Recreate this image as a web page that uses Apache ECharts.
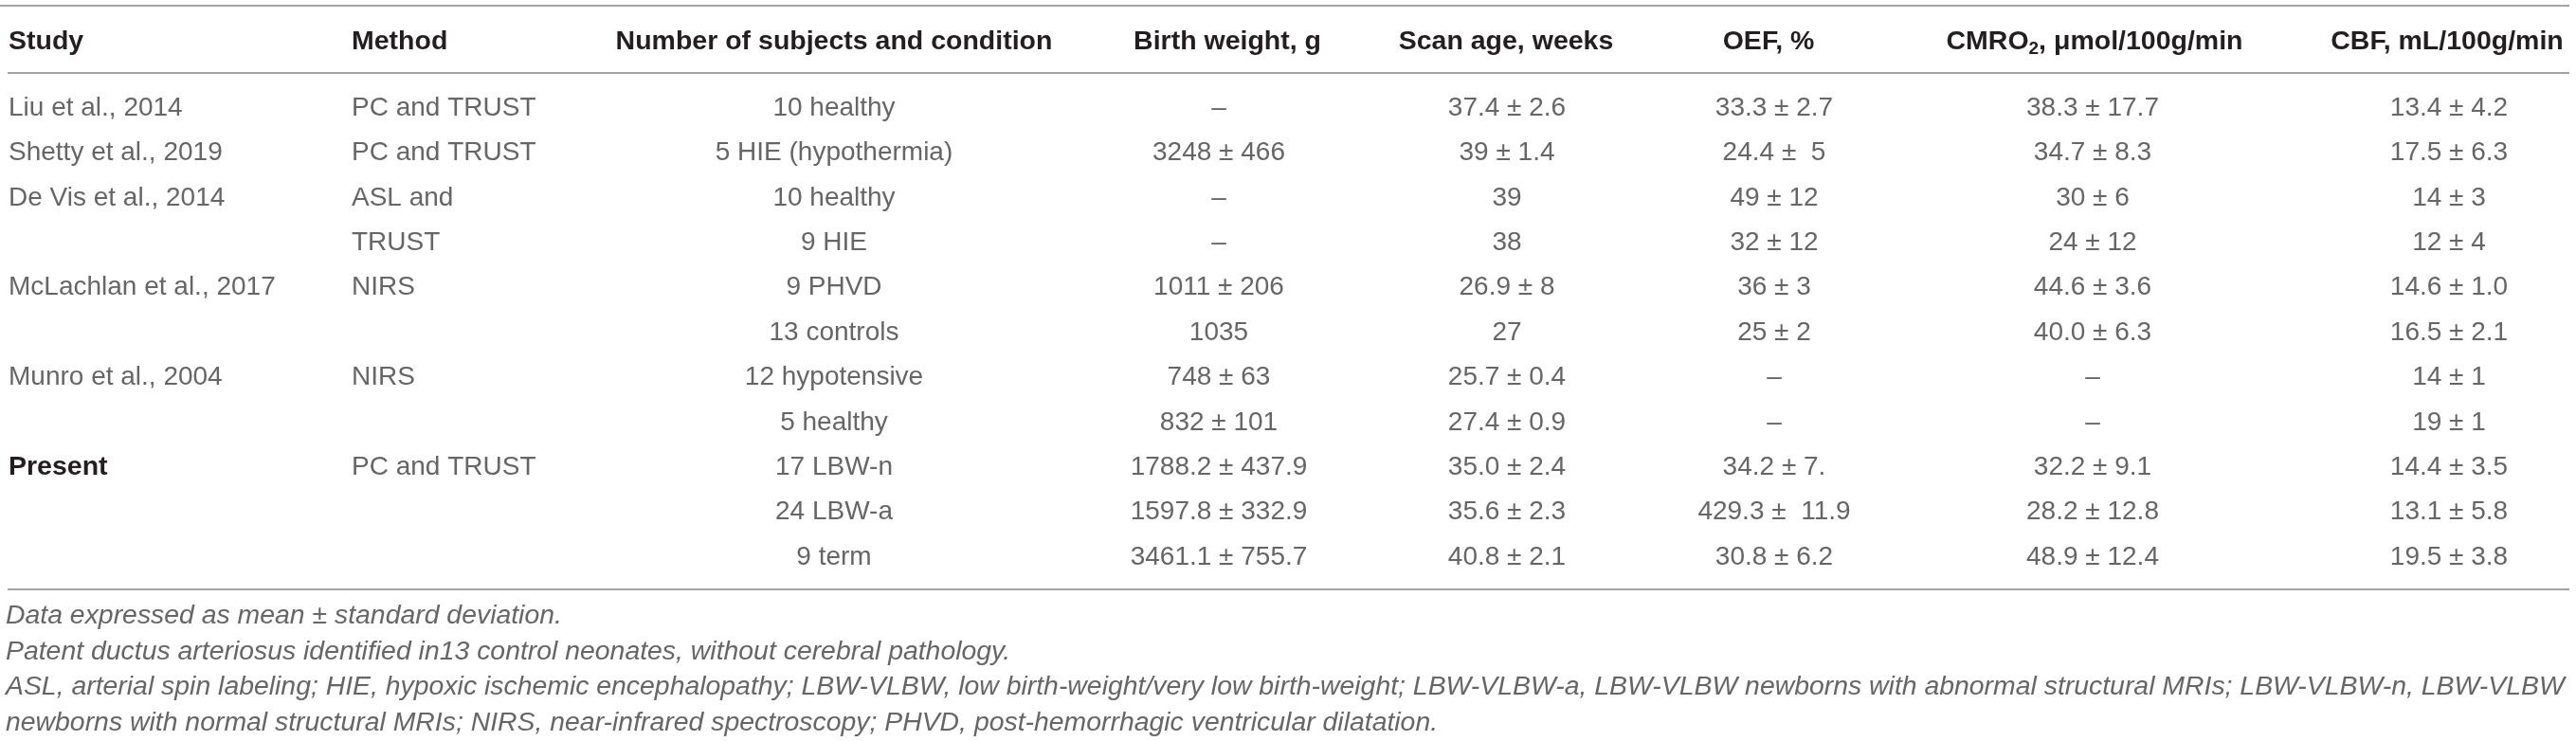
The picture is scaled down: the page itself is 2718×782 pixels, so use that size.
<!DOCTYPE html>
<html>
<head>
<meta charset="utf-8">
<script src="https://cdn.jsdelivr.net/npm/echarts@6/dist/echarts.min.js"></script>
<style>
  html, body { margin: 0; padding: 0; background: #fff; }
  #main { width: 2718px; height: 782px; }
</style>
</head>
<body>
<div id="main"></div>
<script>
// table content
var headers = ['Study', 'Method', 'Number of subjects and condition', 'Birth weight, g',
  'Scan age, weeks', 'OEF, %', 'CMRO2', 'CBF, mL/100g/min'];
var studies = ['Liu et al., 2014', 'Shetty et al., 2019', 'De Vis et al., 2014', '',
  'McLachlan et al., 2017', '', 'Munro et al., 2004', '', 'Present', '', ''];
var methods = ['PC and TRUST', 'PC and TRUST', 'ASL and', 'TRUST', 'NIRS', '', 'NIRS', '',
  'PC and TRUST', '', ''];
var subjects = ['10 healthy', '5 HIE (hypothermia)', '10 healthy', '9 HIE', '9 PHVD',
  '13 controls', '12 hypotensive', '5 healthy', '17 LBW-n', '24 LBW-a', '9 term'];
var birthWeight = ['–', '3248 ± 466', '–', '–', '1011 ± 206', '1035', '748 ± 63',
  '832 ± 101', '1788.2 ± 437.9', '1597.8 ± 332.9', '3461.1 ± 755.7'];
var scanAge = ['37.4 ± 2.6', '39 ± 1.4', '39', '38', '26.9 ± 8', '27', '25.7 ± 0.4',
  '27.4 ± 0.9', '35.0 ± 2.4', '35.6 ± 2.3', '40.8 ± 2.1'];
var oef = ['33.3 ± 2.7', '24.4 ±  5', '49 ± 12', '32 ± 12', '36 ± 3', '25 ± 2', '–', '–',
  '34.2 ± 7.', '429.3 ±  11.9', '30.8 ± 6.2'];
var cmro2 = ['38.3 ± 17.7', '34.7 ± 8.3', '30 ± 6', '24 ± 12', '44.6 ± 3.6', '40.0 ± 6.3',
  '–', '–', '32.2 ± 9.1', '28.2 ± 12.8', '48.9 ± 12.4'];
var cbf = ['13.4 ± 4.2', '17.5 ± 6.3', '14 ± 3', '12 ± 4', '14.6 ± 1.0', '16.5 ± 2.1',
  '14 ± 1', '19 ± 1', '14.4 ± 3.5', '13.1 ± 5.8', '19.5 ± 3.8'];
var boldRows = ['Present'];
var notes = [
  'Data expressed as mean ± standard deviation.',
  'Patent ductus arteriosus identified in13 control neonates, without cerebral pathology.',
  'ASL, arterial spin labeling; HIE, hypoxic ischemic encephalopathy; LBW-VLBW, low birth-weight/very low birth-weight; LBW-VLBW-a, LBW-VLBW newborns with abnormal structural MRIs; LBW-VLBW-n, LBW-VLBW',
  'newborns with normal structural MRIs; NIRS, near-infrared spectroscopy; PHVD, post-hemorrhagic ventricular dilatation.'
];

// layout (x in px on a 0..2718 axis, y in row units)
var columns = [studies, methods, subjects, birthWeight, scanAge, oef, cmro2, cbf];
var colX = [9, 371, 880, 1286, 1590, 1872, 2208, 2584];
var headX = [9, 371, 880, 1295, 1589, 1866, 2210, 2582];
var colAlign = ['left', 'left', 'center', 'center', 'center', 'center', 'center', 'center'];
var headerRow = -1.48;
var ruleRows = [-2.28, -0.78, 10.72];
var noteRows = [11.31, 12.11, 12.89, 13.69];
var FONT = '"Liberation Sans", Arial, Helvetica, sans-serif';

var cellData = [], cellText = [];
columns.forEach(function (col, c) {
  col.forEach(function (t, r) {
    if (t === '') return;
    cellData.push([c, r]);
    cellText.push(t);
  });
});

var myChart = echarts.init(document.getElementById('main'));
var option = {
  animation: false,
  grid: { left: 0, right: 0, top: 0, bottom: 0 },
  xAxis: { type: 'value', min: 0, max: 2718, show: false },
  yAxis: { type: 'value', min: -2.405, max: 14.093, inverse: true, show: false },
  series: [{
    // body cells
    type: 'custom',
    data: cellData,
    renderItem: function (params, api) {
      var c = api.value(0), r = api.value(1);
      var p = api.coord([colX[c], r]);
      var t = cellText[params.dataIndex];
      var bold = boldRows.indexOf(t) >= 0;
      return {
        type: 'text',
        style: {
          x: p[0], y: p[1], text: t,
          align: colAlign[c], verticalAlign: 'middle',
          font: (bold ? 'bold 28.5px ' : '28px ') + FONT,
          fill: bold ? '#231f20' : '#666666'
        }
      };
    }
  }, {
    // header row
    type: 'custom',
    data: headers.map(function (h, c) { return [c, headerRow]; }),
    renderItem: function (params, api) {
      var c = api.value(0);
      var p = api.coord([headX[c], api.value(1)]);
      var h = headers[c];
      var style = {
        x: p[0], y: p[1], align: colAlign[c], verticalAlign: 'middle',
        font: 'bold 28.5px ' + FONT, fill: '#231f20'
      };
      if (h === 'CMRO2') {
        style.text = '{b|CMRO}{s|2}{b|, μmol/100g/min}';
        style.rich = {
          b: { font: 'bold 28.5px ' + FONT, fill: '#231f20', lineHeight: 34, verticalAlign: 'middle' },
          s: { font: 'bold 19px ' + FONT, fill: '#231f20', lineHeight: 14, verticalAlign: 'bottom' }
        };
      } else {
        style.text = h;
      }
      return { type: 'text', style: style };
    }
  }, {
    // horizontal rules
    type: 'custom',
    data: ruleRows.map(function (y, i) { return [i, y]; }),
    renderItem: function (params, api) {
      var y = api.value(1);
      var x0 = params.dataIndex === 0 ? 0 : 8;
      var a = api.coord([x0, y]), b = api.coord([2711, y]);
      return {
        type: 'line',
        shape: { x1: a[0], y1: a[1], x2: b[0], y2: b[1] },
        style: { stroke: '#a3a3a3', lineWidth: 2 }
      };
    }
  }, {
    // footnotes
    type: 'custom',
    data: noteRows.map(function (y, i) { return [i, y]; }),
    renderItem: function (params, api) {
      var p = api.coord([6, api.value(1)]);
      return {
        type: 'text',
        style: {
          x: p[0], y: p[1], text: notes[params.dataIndex],
          align: 'left', verticalAlign: 'middle',
          font: 'italic 28.4px ' + FONT, fill: '#666666'
        }
      };
    }
  }]
};
myChart.setOption(option);
</script>
</body>
</html>
